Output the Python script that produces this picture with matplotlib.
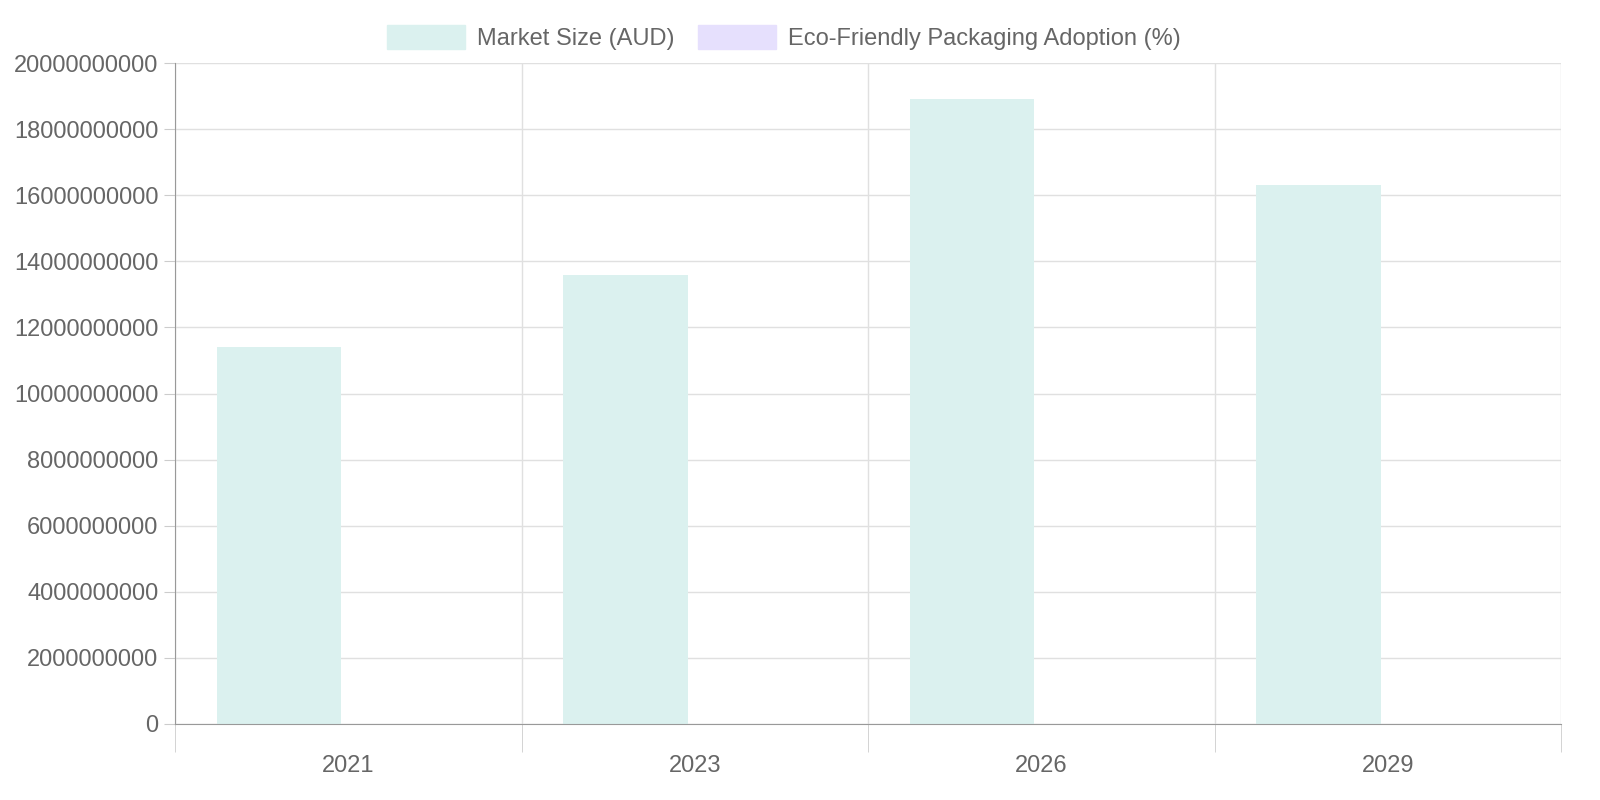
import matplotlib
matplotlib.use("Agg")
import matplotlib.pyplot as plt
from matplotlib.patches import Patch
import numpy as np

years = ["2021", "2023", "2026", "2029"]
market_size = [11.4e9, 13.6e9, 18.9e9, 16.3e9]
adoption = [25, 35, 50, 65]

plt.rcParams['font.family'] = ['Liberation Sans', 'DejaVu Sans']
fig = plt.figure(figsize=(16, 8), dpi=100)
ax = fig.add_axes([175/1600, 76/800, 1386/1600, 661/800])

x = np.arange(len(years))
bw = 0.8 * 0.9 / 2
c1, c2 = "#dbf1ef", "#e6e0fd"
ax.bar(x - 0.2, market_size, width=bw, color=c1)
ax.bar(x + 0.2, adoption, width=bw, color=c2)

ax.set_xlim(-0.5, len(years) - 0.5)
ax.set_ylim(0, 20e9)
yt = np.arange(0, 20e9 + 1, 2e9)
ax.set_yticks(yt)
ax.set_yticklabels([str(int(v)) for v in yt])
ax.set_xticks(x)
ax.set_xticklabels(years)
ax.set_xticks(np.arange(-0.5, len(years), 1), minor=True)
ax.tick_params(axis='x', which='major', length=0, pad=22, labelsize=17, colors="#666666")
ax.tick_params(axis='x', which='minor', length=20, color="#cccccc")
ax.tick_params(axis='y', length=8, color="#cccccc", labelsize=17, labelcolor="#666666", pad=4)
ax.grid(True, axis='y', color="#e0e0e0", lw=1)
ax.grid(True, axis='x', which='minor', color="#e0e0e0", lw=1)
ax.set_axisbelow(True)
for s in ["top", "right"]:
    ax.spines[s].set_visible(False)
ax.spines["left"].set_color("#999999")
ax.spines["bottom"].set_color("#999999")

handles = [Patch(color=c1), Patch(color=c2)]
fig.legend(handles, ["Market Size (AUD)", "Eco-Friendly Packaging Adoption (%)"],
           loc="upper center", bbox_to_anchor=(0.49, 0.995), ncol=2, frameon=False,
           fontsize=17, labelcolor="#666666", handlelength=3.3, handleheight=1.2,
           columnspacing=1.0, handletextpad=0.5)
fig.savefig("out.png", dpi=100)
